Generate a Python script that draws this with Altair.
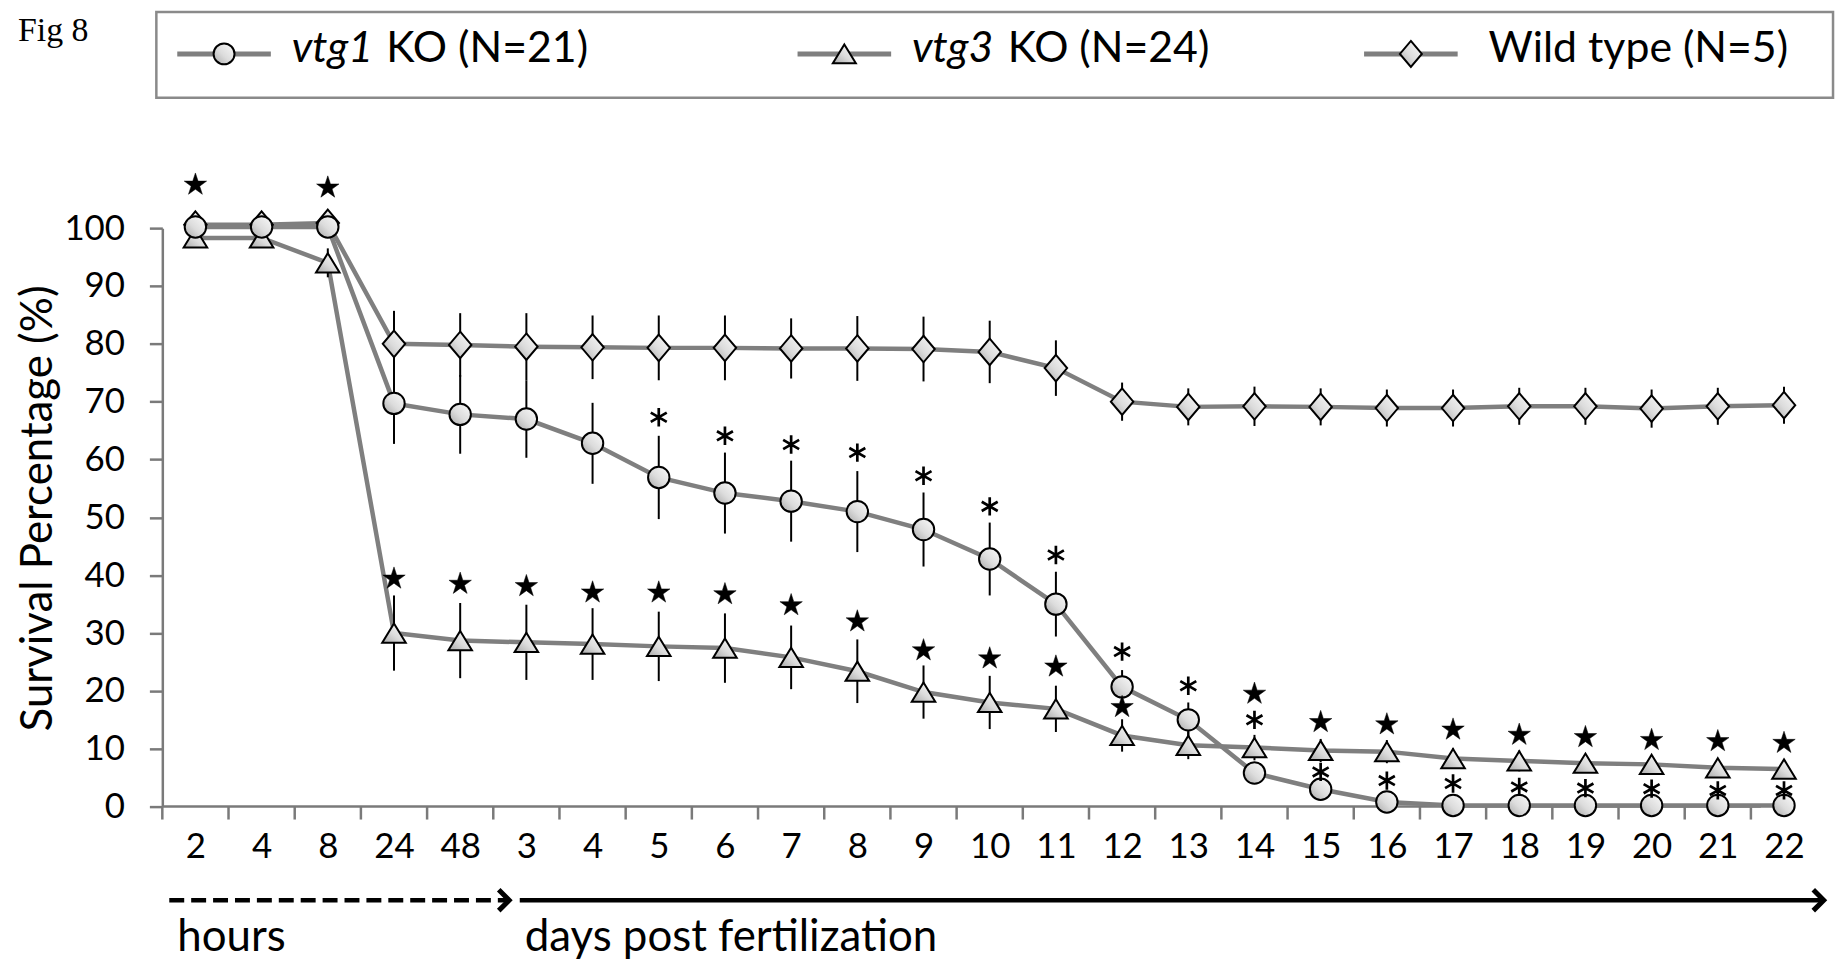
import json
import altair as alt
import pandas as pd

# ---------------- data ----------------
TICK_LABELS = ["2", "4", "8", "24", "48", "3", "4", "5", "6", "7", "8", "9", "10",
               "11", "12", "13", "14", "15", "16", "17", "18", "19", "20", "21", "22"]

SERIES = ["Wild type (N=5)", "vtg3 KO (N=24)", "vtg1 KO (N=21)"]   # drawing order

WT = [100.6, 100.6, 100.9, 80.0, 79.8, 79.5, 79.4, 79.3, 79.3, 79.2, 79.2, 79.1, 78.6,
      75.8, 70.0, 69.1, 69.2, 69.1, 68.9, 68.9, 69.2, 69.2, 68.8, 69.2, 69.4]
WT_ERR = [0, 0, 0, 5.7, 5.5, 5.8, 5.5, 5.6, 5.6, 5.2, 5.6, 5.6, 5.4,
          4.8, 3.3, 3.2, 3.4, 3.2, 3.2, 3.2, 3.2, 3.2, 3.3, 3.2, 3.2]

VTG3 = [98.3, 98.3, 94.0, 30.0, 28.7, 28.4, 28.1, 27.7, 27.4, 25.8, 23.4, 19.8, 18.0,
        16.9, 12.3, 10.6, 10.2, 9.7, 9.5, 8.3, 7.9, 7.5, 7.3, 6.7, 6.5]
VTG3_ERR = [0, 0, 2.5, 6.5, 6.5, 6.5, 6.2, 6.0, 6.0, 5.5, 5.5, 4.6, 4.6,
            4.0, 2.8, 2.4, 2.2, 2.0, 2.0, 1.8, 1.8, 1.6, 1.6, 1.5, 1.5]

VTG1 = [100.2, 100.2, 100.2, 69.7, 67.8, 67.0, 62.8, 56.9, 54.2, 52.8, 51.0, 47.9, 42.8,
        35.0, 20.7, 15.0, 5.8, 3.0, 0.8, 0.2, 0.2, 0.2, 0.2, 0.2, 0.2]
VTG1_ERR = [0, 0, 0, 7.0, 6.8, 6.7, 7.0, 7.2, 7.0, 7.0, 7.0, 6.4, 6.3,
            5.6, 2.9, 3.0, 1.5, 1.2, 0.8, 0, 0, 0, 0, 0, 0]

STAR_IDX = [0, 2, 3, 4, 5, 6, 7, 8, 9, 10, 11, 12, 13, 14, 16, 17, 18, 19, 20, 21, 22, 23, 24]
STAR_Y = [107.5, 107.0, 39.4, 38.5, 38.1, 37.0, 37.0, 36.7, 34.8, 32.0, 27.0, 25.6, 24.2,
          17.2, 19.5, 14.6, 14.2, 13.3, 12.4, 12.0, 11.5, 11.3, 11.0]

AST_IDX = [7, 8, 9, 10, 11, 12, 13, 14, 15, 16, 17, 18, 19, 20, 21, 22, 23, 24]
AST_Y = [67.3, 64.1, 62.6, 61.2, 57.2, 51.9, 43.5, 26.8, 20.9, 15.0, 6.0, 4.5, 4.0,
         3.4, 3.2, 3.1, 2.8, 2.8]

# ---------------- tables ----------------
rows = []
for name, vals, errs in [(SERIES[0], WT, WT_ERR), (SERIES[1], VTG3, VTG3_ERR), (SERIES[2], VTG1, VTG1_ERR)]:
    for i, (v, e) in enumerate(zip(vals, errs)):
        rows.append(dict(series=name, idx=i, val=v, err=e, lo=v - e, hi=v + e))
df = pd.DataFrame(rows)
stars = pd.DataFrame({"idx": STAR_IDX, "val": STAR_Y})
asts = pd.DataFrame({"idx": AST_IDX, "val": AST_Y})
ticks_df = pd.DataFrame({"idx": [i - 0.5 for i in range(len(TICK_LABELS))]})
one = pd.DataFrame({"a": [0]})

# ---------------- styling ----------------
W, H = 1662, 581
GRAY = "#7f7f7f"
AXGRAY = "#7a7a7a"
FONT = "Lato"
DIAMOND = "M0,-1.24L1.05,0L0,1.24L-1.05,0Z"
TRIANGLE = "M0,-0.9L1.1,0.9L-1.1,0.9Z"
STAR = ("M0,-1L0.225,-0.309L0.951,-0.309L0.363,0.118L0.588,0.809L0,0.382"
        "L-0.588,0.809L-0.363,0.118L-0.951,-0.309L-0.225,-0.309Z")
ASTER = "M0,-1L0,1M-0.87,-0.5L0.87,0.5M-0.87,0.5L0.87,-0.5"
CHEVRON = "M-1,-1L0,0L-1,1"
GRAD = alt.LinearGradient(
    gradient="linear",
    stops=[alt.GradientStop(color="#fbfbfb", offset=0),
           alt.GradientStop(color="#dcdcdc", offset=0.55),
           alt.GradientStop(color="#a8a8a8", offset=1)],
    x1=1, y1=0, x2=0, y2=1)

xs = alt.Scale(domain=[-0.5, 24.5], nice=False, zero=False)
ys = alt.Scale(domain=[0, 100], nice=False)
x_axis = alt.Axis(values=list(range(len(TICK_LABELS))),
                  labelExpr=json.dumps(TICK_LABELS) + "[datum.value]",
                  ticks=False, tickSize=0, domain=False, grid=False,
                  labelFont=FONT, labelFontSize=35, labelColor="black",
                  labelPadding=23, labelFlush=False, labelOverlap=False, title=None)
y_axis = alt.Axis(values=list(range(0, 101, 10)), grid=False,
                  title="Survival Percentage (%)", titleFont=FONT, titleFontSize=44,
                  titleFontWeight="normal", titleColor="black", titleX=-124, titleY=281,
                  titleAngle=270, titleAlign="center", titleBaseline="middle",
                  labelFont=FONT, labelFontSize=35, labelColor="black", labelPadding=25,
                  labelFlush=False, tickSize=13, tickWidth=2.5, tickColor=AXGRAY,
                  domainColor=AXGRAY, domainWidth=2.5)
X = alt.X("idx:Q", scale=xs, axis=x_axis)
Y = alt.Y("val:Q", scale=ys, axis=y_axis)

layers = []
# x axis baseline and ticks
layers.append(alt.Chart(pd.DataFrame({"idx": [-0.5], "idx2": [23.65]})).mark_rule(
    color=AXGRAY, strokeWidth=2.5).encode(x=X, x2="idx2:Q", y=alt.value(H)))
layers.append(alt.Chart(ticks_df).mark_rule(color=AXGRAY, strokeWidth=2.5).encode(
    x=X, y=alt.value(H), y2=alt.value(H + 13)))
# series lines
layers.append(alt.Chart(df).mark_line(color=GRAY, strokeWidth=4.5).encode(
    x=X, y=Y, detail="series:N"))
# error bars
layers.append(alt.Chart(df).transform_filter("datum.err > 0").mark_rule(
    color="black", strokeWidth=2).encode(x=X, y=alt.Y("lo:Q", scale=ys, axis=y_axis), y2="hi:Q"))
# markers
layers.append(alt.Chart(df).mark_point(
    filled=True, fill=GRAD, stroke="black", strokeWidth=2, size=462, opacity=1).encode(
    x=X, y=Y,
    shape=alt.Shape("series:N", scale=alt.Scale(domain=SERIES, range=[DIAMOND, TRIANGLE, "circle"]),
                    legend=None)))
# significance marks
layers.append(alt.Chart(stars).mark_point(
    shape=STAR, filled=True, fill="black", stroke="black", strokeWidth=0.5, size=560,
    opacity=1).encode(x=X, y=Y))
layers.append(alt.Chart(asts).mark_point(
    shape=ASTER, filled=False, stroke="black", strokeWidth=2.7, size=340,
    opacity=1).encode(x=X, y=Y))

# time arrows under the axis
ARROW_Y = 675
layers.append(alt.Chart(pd.DataFrame({"idx": [-0.395], "idx2": [4.72]})).mark_rule(
    color="black", strokeWidth=4.5, strokeDash=[15, 7]).encode(x=X, x2="idx2:Q", y=alt.value(ARROW_Y)))
layers.append(alt.Chart(pd.DataFrame({"idx": [4.9], "idx2": [24.58]})).mark_rule(
    color="black", strokeWidth=4.5).encode(x=X, x2="idx2:Q", y=alt.value(ARROW_Y)))
layers.append(alt.Chart(pd.DataFrame({"idx": [4.74, 24.6]})).mark_point(
    shape=CHEVRON, filled=False, stroke="black", strokeWidth=5, size=440, opacity=1,
    strokeJoin="miter", strokeCap="butt").encode(x=X, y=alt.value(ARROW_Y)))
layers.append(alt.Chart(pd.DataFrame({"idx": [-0.274, 4.975], "t": ["hours", "days post fertilization"]})).mark_text(
    font=FONT, fontSize=44, align="left", baseline="alphabetic", color="black").encode(
    x=X, y=alt.value(726), text="t:N"))

# legend (hand built box, as in the original figure)
layers.append(alt.Chart(one).mark_rect(fill="white", stroke="#8a8a8a", strokeWidth=2.5).encode(
    x=alt.value(-6), x2=alt.value(1678), y=alt.value(-217), y2=alt.value(-131)))
LEG_Y = -175
TXT_Y = -167
for x0, shape in [(15, "circle"), (638, TRIANGLE), (1207, DIAMOND)]:
    layers.append(alt.Chart(one).mark_rule(color=GRAY, strokeWidth=5).encode(
        x=alt.value(x0), x2=alt.value(x0 + 94), y=alt.value(LEG_Y)))
    layers.append(alt.Chart(one).mark_point(
        shape=shape, filled=True, fill=GRAD, stroke="black", strokeWidth=2, size=441, opacity=1).encode(
        x=alt.value(x0 + 47), y=alt.value(LEG_Y)))
for xp, txt, style in [(130, "vtg1", "italic"), (225, "KO (N=21)", "normal"),
                       (753, "vtg3", "italic"), (849, "KO (N=24)", "normal"),
                       (1332, "Wild type (N=5)", "normal")]:
    layers.append(alt.Chart(one).mark_text(
        text=txt, font=FONT, fontSize=43, fontStyle=style, align="left",
        baseline="alphabetic", color="black").encode(x=alt.value(xp), y=alt.value(TXT_Y)))

layers.append(alt.Chart(one).mark_text(
    text="Fig 8", font="Liberation Serif", fontSize=34, align="left",
    baseline="alphabetic", color="black").encode(x=alt.value(-145), y=alt.value(-188)))

chart = alt.layer(*layers).properties(
    width=W, height=H,
    autosize=alt.AutoSizeParams(type="none"),
    padding={"left": 155, "top": 219, "right": 22, "bottom": 157},
    background="white",
).configure_view(strokeOpacity=0)

chart.save("out.html", embed_options={"renderer": "svg", "actions": False})
